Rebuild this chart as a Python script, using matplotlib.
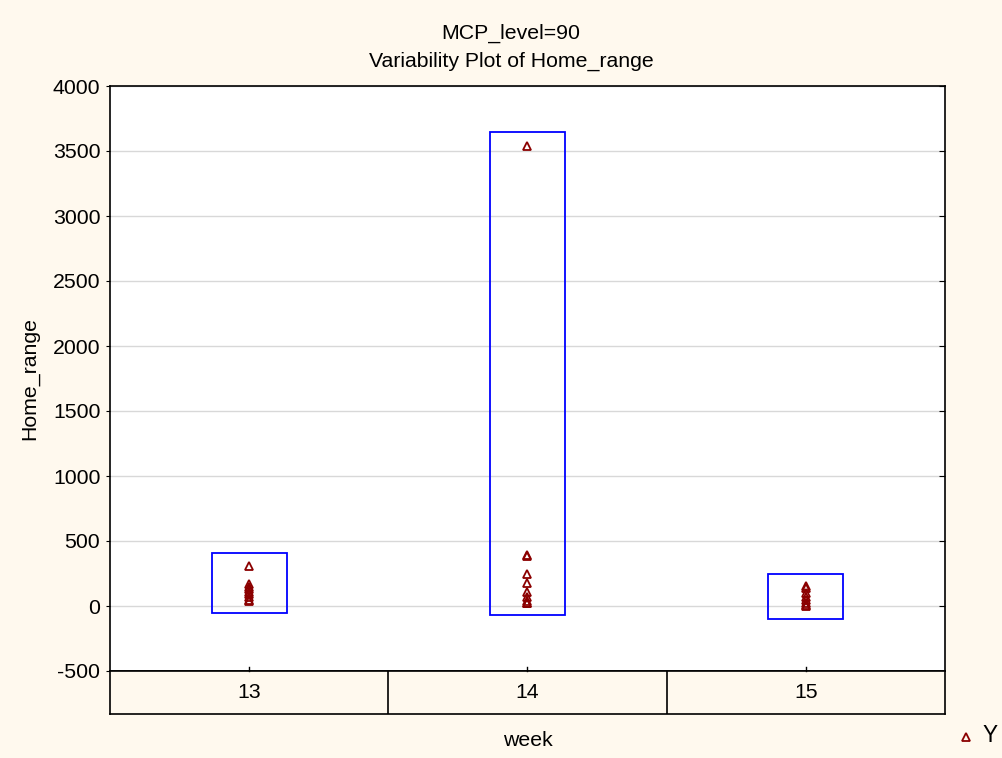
import matplotlib
matplotlib.use("Agg")
import matplotlib.pyplot as plt
from matplotlib.patches import Rectangle

plt.rcParams['font.family'] = ['Liberation Sans', 'DejaVu Sans']
plt.rcParams['axes.unicode_minus'] = False

weeks = ["13", "14", "15"]
week13_vals = [308, 170, 150, 130, 110, 90, 70, 50, 35]
week14_vals = [3540, 395, 385, 250, 175, 105, 70, 40, 25, 20]
week15_vals = [155, 140, 100, 70, 45, 25, 8, 0]
box_low = [-54, -69, -100]
box_high = [405, 3646, 246]

FS = 15.3
bg = '#FFF9EE'
fig = plt.figure(figsize=(10.03, 7.58), dpi=100, facecolor=bg)
ax = fig.add_axes([110/1003, 1-671/758, 835/1003, 585/758])
ax.set_facecolor('white')
ax.set_xlim(-0.5, 2.5)
ax.set_ylim(-500, 4000)
ax.set_yticks(range(-500, 4001, 500))
ax.yaxis.grid(True, color='#D8D8D8', lw=1)
ax.set_axisbelow(True)
ax.tick_params(axis='y', direction='out', length=3, labelsize=FS, pad=4)
ax.set_xticks([])
for s in ax.spines.values():
    s.set_linewidth(1.2)

rx = ax.twinx()
rx.set_ylim(-500, 4000)
rx.set_yticks(range(-500, 4001, 500))
rx.tick_params(axis='y', direction='in', length=4, labelright=False)
for s in rx.spines.values():
    s.set_visible(False)

hw = 0.135
for i, (lo, hi) in enumerate(zip(box_low, box_high)):
    ax.add_patch(Rectangle((i - hw, lo), 2*hw, hi - lo, fill=False,
                           edgecolor='#0000FF', lw=1.3, zorder=3))

for i, vals in enumerate([week13_vals, week14_vals, week15_vals]):
    ax.plot([i]*len(vals), vals, linestyle='none', marker='^', markersize=6,
            markerfacecolor='none', markeredgecolor='#8B0000', markeredgewidth=1.3,
            zorder=4)

ax.set_ylabel('Home_range', fontsize=FS, labelpad=10)
fig.text(511/1003, 1-33/758, 'MCP_level=90', ha='center', va='center', fontsize=FS)
fig.text(511/1003, 1-61/758, 'Variability Plot of Home_range', ha='center', va='center', fontsize=FS)

# category strip
sx = fig.add_axes([110/1003, 1-714/758, 835/1003, 43/758])
sx.set_facecolor(bg)
sx.set_xlim(-0.5, 2.5)
sx.set_ylim(0, 1)
sx.set_xticks([])
sx.set_yticks([])
for s in sx.spines.values():
    s.set_linewidth(1.2)
for i, w in enumerate(weeks):
    sx.text(i, 0.5, w, ha='center', va='center', fontsize=FS)
    if i > 0:
        sx.axvline(i - 0.5, color='black', lw=1.2)
    sx.plot([i, i], [1, 1.1], color='black', lw=1, clip_on=False)
fig.text(0.5*(110+945)/1003, 1-740/758, 'week', ha='center', va='center', fontsize=FS)

# legend
lax = fig.add_axes([955/1003, 1-748/758, 45/1003, 22/758])
lax.set_axis_off()
lax.set_xlim(0, 1); lax.set_ylim(0, 1)
lax.plot([0.25], [0.5], marker='^', markersize=6, markerfacecolor='none',
         markeredgecolor='#8B0000', markeredgewidth=1.3, linestyle='none')
lax.text(0.6, 0.55, 'Y', fontsize=FS+1, va='center', ha='left')

fig.savefig('out.png', dpi=100, facecolor=bg)
